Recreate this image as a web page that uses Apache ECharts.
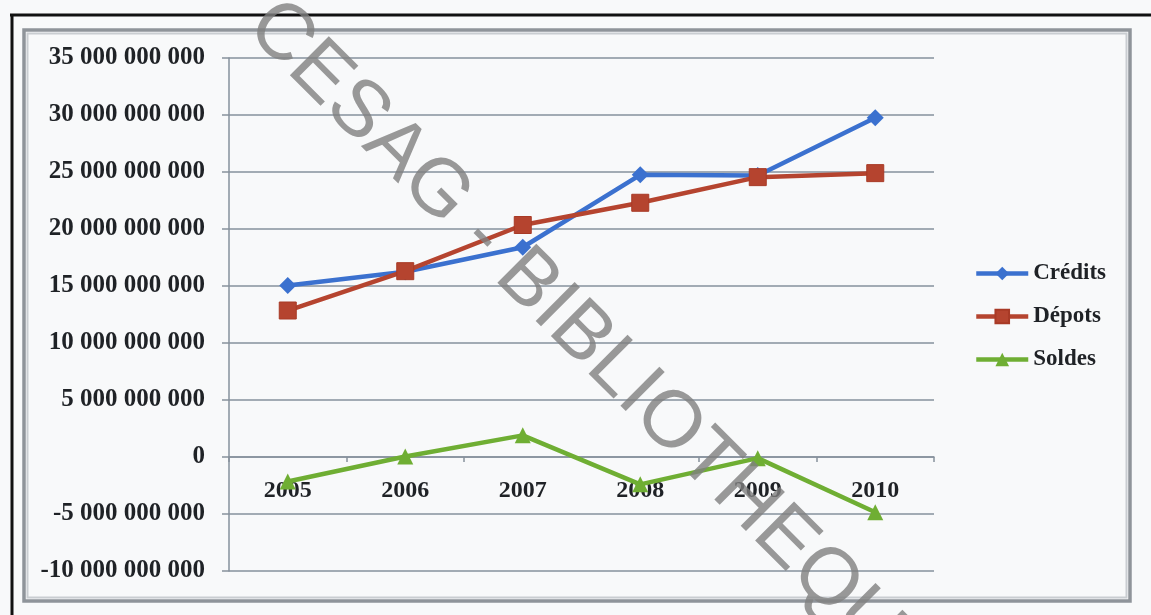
<!DOCTYPE html>
<html>
<head>
<meta charset="utf-8">
<script src="https://cdn.jsdelivr.net/npm/echarts@6/dist/echarts.min.js"></script>
<style>
  html, body { margin: 0; padding: 0; background: #f8f9fa; }
  #chart { width: 1151px; height: 615px; }
</style>
</head>
<body>
<div id="chart"></div>
<script>
// Years on the category axis
const years = ['2005', '2006', '2007', '2008', '2009', '2010'];

// Amounts per year
const credits = [15050000000, 16250000000, 18400000000, 24750000000, 24700000000, 29750000000];
const depots  = [12850000000, 16300000000, 20350000000, 22300000000, 24550000000, 24900000000];
const soldes  = [-2150000000,    50000000,  1900000000, -2400000000,  -100000000, -4850000000];

// Value axis range
const yMin = -10000000000;
const yMax = 35000000000;
const yStep = 5000000000;

const serif = '"Liberation Serif", "Times New Roman", serif';
const gridColor = '#86919c';
const textColor = '#1f2226';

// thousands separated by spaces
function spaced(v) {
  const neg = v < 0;
  let s = String(Math.abs(Math.round(v)));
  s = s.replace(/\B(?=(\d{3})+(?!\d))/g, ' ');
  return (neg ? '-' : '') + s;
}

const chart = echarts.init(document.getElementById('chart'), null, { renderer: 'canvas' });

chart.setOption({
  backgroundColor: '#f8f9fa',
  animation: false,
  grid: { left: 229, right: 217, top: 58, bottom: 44, containLabel: false },
  legend: {
    orient: 'vertical',
    left: 969,
    top: 257,
    itemWidth: 52,
    itemHeight: 17,
    itemGap: 20,
    lineStyle: { width: 4.5 },
    textStyle: { fontFamily: serif, fontWeight: 'bold', fontSize: 23, color: textColor },
    data: ['Crédits', 'Dépots', 'Soldes']
  },
  xAxis: {
    type: 'category',
    data: years,
    boundaryGap: true,
    axisLine: { onZero: true, lineStyle: { color: gridColor, width: 1.5 } },
    axisTick: { show: true, length: 5, lineStyle: { color: gridColor, width: 1.5 } },
    // labels sit just under the zero line
    axisLabel: { margin: -92, fontFamily: serif, fontWeight: 'bold', fontSize: 24, color: textColor },
    splitLine: { show: false }
  },
  yAxis: {
    type: 'value',
    min: yMin,
    max: yMax,
    interval: yStep,
    axisLine: { show: true, lineStyle: { color: gridColor, width: 1.5 } },
    axisTick: { show: true, length: 7, lineStyle: { color: gridColor, width: 1.5 } },
    axisLabel: {
      margin: 24,
      fontFamily: serif,
      fontWeight: 'bold',
      fontSize: 25,
      color: textColor,
      formatter: spaced
    },
    splitLine: { show: true, lineStyle: { color: gridColor, width: 1.5 } }
  },
  series: [
    {
      name: 'Crédits',
      type: 'line',
      data: credits,
      symbol: 'diamond',
      symbolSize: 17,
      lineStyle: { width: 4.5, color: '#3b71cf' },
      itemStyle: { color: '#3b71cf' },
      z: 3
    },
    {
      name: 'Dépots',
      type: 'line',
      data: depots,
      symbol: 'rect',
      symbolSize: 17,
      lineStyle: { width: 4.5, color: '#b5442f' },
      itemStyle: { color: '#b5442f', borderColor: '#a83a26', borderWidth: 1 },
      z: 4
    },
    {
      name: 'Soldes',
      type: 'line',
      data: soldes,
      symbol: 'triangle',
      symbolSize: 16,
      lineStyle: { width: 4.5, color: '#6fae33' },
      itemStyle: { color: '#6fae33' },
      z: 3
    }
  ],
  graphic: [
    // outer black border lines
    { type: 'line', shape: { x1: 10, y1: 15, x2: 1151, y2: 15 }, style: { stroke: '#111', lineWidth: 3 }, z: 10 },
    { type: 'line', shape: { x1: 12, y1: 15, x2: 12, y2: 615 }, style: { stroke: '#111', lineWidth: 3 }, z: 10 },
    // grey chart-area frame (double line)
    { type: 'rect', shape: { x: 24, y: 30, width: 1106, height: 571 }, style: { fill: 'none', stroke: '#8f949a', lineWidth: 3.5 }, z: 10 },
    { type: 'rect', shape: { x: 27.5, y: 33.5, width: 1099, height: 564 }, style: { fill: 'none', stroke: '#c9cdd1', lineWidth: 2 }, z: 10 },
    // diagonal library stamp
    {
      type: 'text',
      x: 260,
      y: 14,
      rotation: -Math.PI / 4,
      z: 100,
      style: {
        text: 'CESAG - BIBLIOTHEQUE',
        font: '80px "Liberation Sans", Arial, sans-serif',
        fill: 'rgba(128,128,128,0.8)',
        textVerticalAlign: 'middle',
        textAlign: 'left'
      }
    }
  ]
});
</script>
</body>
</html>
